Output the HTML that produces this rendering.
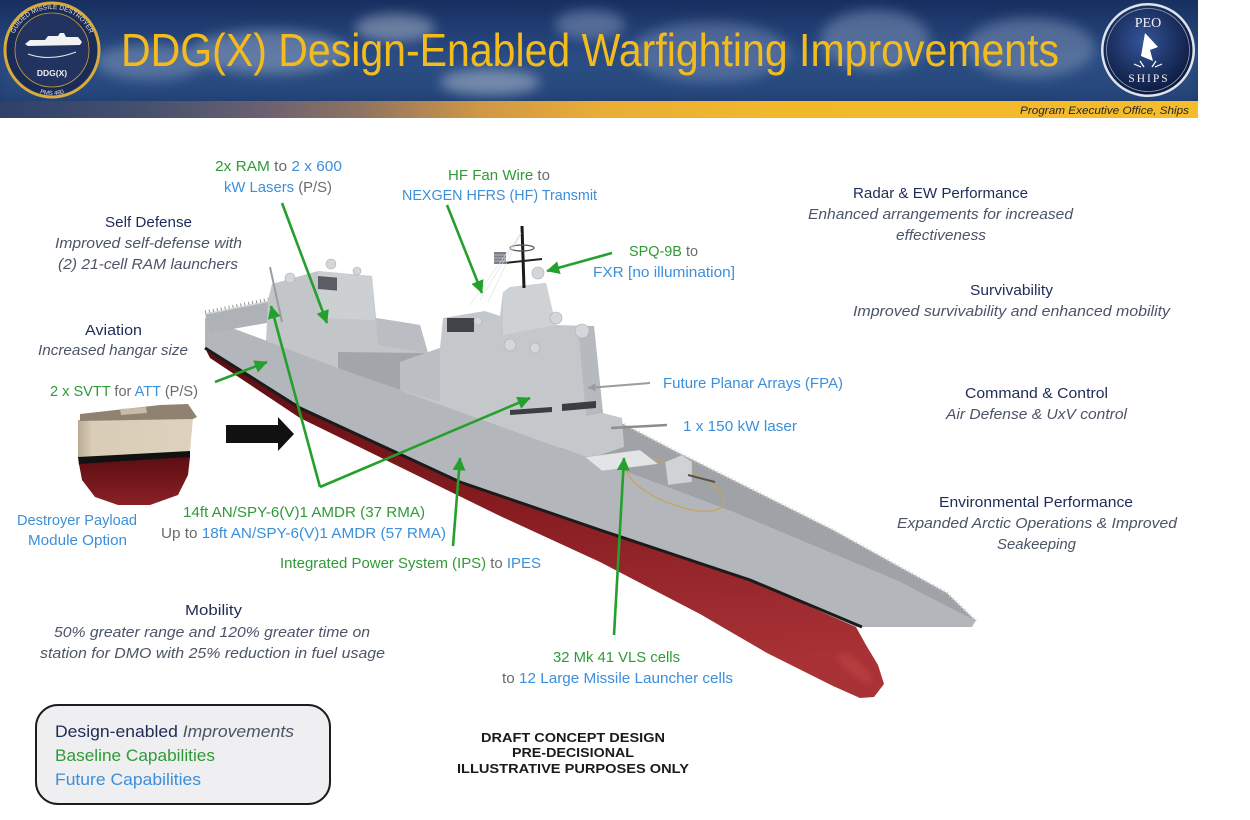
<!DOCTYPE html>
<html><head><meta charset="utf-8"><style>
html,body{margin:0;padding:0;background:#fff;}
svg{display:block;}
text{font-family:"Liberation Sans",Arial,sans-serif;}
.g{fill:#2f9a37}.b{fill:#3b8fdb}.k{fill:#6b6b6b}.n{fill:#1f2b58}.it{fill:#4c5467;font-style:italic}
</style></head><body>
<svg width="1250" height="820" viewBox="0 0 1250 820" xmlns="http://www.w3.org/2000/svg">
<defs>
 <clipPath id="hclip"><rect x="0" y="0" width="1198" height="101"/></clipPath>
 <linearGradient id="hdr" x1="0" y1="0" x2="0" y2="1">
  <stop offset="0" stop-color="#172f60"/>
  <stop offset="0.55" stop-color="#284a82"/>
  <stop offset="1" stop-color="#1d396b"/>
 </linearGradient>
 <linearGradient id="strip" x1="0" x2="1">
  <stop offset="0" stop-color="#2f406a"/>
  <stop offset="0.12" stop-color="#45506e"/>
  <stop offset="0.22" stop-color="#6b6070"/>
  <stop offset="0.3" stop-color="#8e7362"/>
  <stop offset="0.4" stop-color="#cf9746"/>
  <stop offset="0.5" stop-color="#e9ad36"/>
  <stop offset="0.65" stop-color="#f2b82c"/>
  <stop offset="1" stop-color="#f5bc2c"/>
 </linearGradient>
 <filter id="blur6" x="-50%" y="-50%" width="200%" height="200%"><feGaussianBlur stdDeviation="6"/></filter>
 <filter id="blur3" x="-50%" y="-50%" width="200%" height="200%"><feGaussianBlur stdDeviation="3"/></filter>
 <radialGradient id="peo" cx="0.45" cy="0.4" r="0.6">
  <stop offset="0" stop-color="#34559a"/>
  <stop offset="1" stop-color="#0d1a3e"/>
 </radialGradient>
 <linearGradient id="red" x1="0" y1="0" x2="0.15" y2="1">
  <stop offset="0" stop-color="#5a0c10"/>
  <stop offset="0.5" stop-color="#861c20"/>
  <stop offset="1" stop-color="#a83236"/>
 </linearGradient>
 <linearGradient id="dpmred" x1="0" y1="0" x2="0" y2="1">
  <stop offset="0" stop-color="#5c0e12"/>
  <stop offset="1" stop-color="#8a2026"/>
 </linearGradient>
 <linearGradient id="beige" x1="0" y1="0" x2="1" y2="0">
  <stop offset="0" stop-color="#b9ab94"/>
  <stop offset="0.12" stop-color="#d9cdb7"/>
  <stop offset="1" stop-color="#ddd2bd"/>
 </linearGradient>
 <marker id="ga" viewBox="0 0 10 10" refX="9.5" refY="5" markerWidth="13" markerHeight="13" markerUnits="userSpaceOnUse" orient="auto">
  <path d="M0,0 L10,5 L0,10 z" fill="#24a02c"/>
 </marker>
 <marker id="gr" viewBox="0 0 10 10" refX="9.5" refY="5" markerWidth="8" markerHeight="8" markerUnits="userSpaceOnUse" orient="auto">
  <path d="M0,0 L10,5 L0,10 z" fill="#9a9c9f"/>
 </marker>
 <path id="arcTop" d="M11,50 A41,41 0 0 1 93,50" fill="none"/>
 <path id="arcBot" d="M9,52 A43,43 0 0 0 95,52" fill="none"/>
</defs>

<!-- HEADER -->
<g clip-path="url(#hclip)">
<rect x="0" y="0" width="1198" height="101" fill="url(#hdr)"/>
<rect x="0" y="55" width="1198" height="46" fill="#2e5288" opacity="0.5" filter="url(#blur6)"/>
<g filter="url(#blur6)" opacity="0.55">
 <ellipse cx="150" cy="62" rx="55" ry="18" fill="#7d93b8"/>
 <ellipse cx="270" cy="52" rx="80" ry="22" fill="#8ea2c2"/>
 <ellipse cx="395" cy="28" rx="40" ry="14" fill="#a8b4c8"/>
 <ellipse cx="490" cy="82" rx="50" ry="13" fill="#b4c0d2"/>
 <ellipse cx="590" cy="25" rx="35" ry="15" fill="#8094b8"/>
 <ellipse cx="710" cy="52" rx="80" ry="30" fill="#6f86b0"/>
 <ellipse cx="875" cy="40" rx="55" ry="30" fill="#7d92b6"/>
 <ellipse cx="1030" cy="48" rx="65" ry="30" fill="#7a8fb4"/>
</g>
</g>
<rect x="0" y="101" width="1198" height="17" fill="url(#strip)"/>

<!-- left logo -->
<circle cx="52" cy="50" r="47" fill="#1b2b57" stroke="#d9ab3c" stroke-width="3"/>
<circle cx="52" cy="50" r="37" fill="#22335f" stroke="#c9a040" stroke-width="0.8"/>
<text font-size="6.5" fill="#e6e6e6"><textPath href="#arcTop" startOffset="50%" text-anchor="middle">GUIDED MISSILE DESTROYER</textPath></text>
<text font-size="6" fill="#e6e6e6"><textPath href="#arcBot" startOffset="50%" text-anchor="middle">PMS 460</textPath></text>
<path d="M25,44 L30,40 L45,40 L48,36 L58,36 L60,33 L64,33 L66,37 L78,37 L82,42 L80,45 L28,46 Z" fill="#f2f2f2"/>
<path d="M28,54 Q50,62 76,52" fill="none" stroke="#e8e8e8" stroke-width="1"/>
<text x="52" y="76" font-size="8.5" font-weight="bold" fill="#f0f0f0" text-anchor="middle">DDG(X)</text>

<!-- right logo -->
<circle cx="1148" cy="50" r="47" fill="#dfe3ea"/>
<circle cx="1148" cy="50" r="44.5" fill="url(#peo)"/>
<circle cx="1148" cy="50" r="41.5" fill="none" stroke="#8fa0c0" stroke-width="0.8"/>
<text x="1148" y="27" text-anchor="middle" style="font-family:'Liberation Serif',serif" font-size="14" fill="#f2f2f2">PEO</text>
<text x="1149" y="82" text-anchor="middle" style="font-family:'Liberation Serif',serif" font-size="11.5" letter-spacing="2" fill="#f2f2f2">SHIPS</text>
<path d="M1145,33 L1158,47 L1150,50 L1153,61 L1141,56 Z" fill="#fff"/>
<path d="M1134,64 L1141,67 M1140,61 L1144,67 M1162,64 L1155,67 M1156,61 L1152,67" stroke="#fff" stroke-width="1.2"/>

<!-- title -->
<text x="121" y="66" font-size="46" fill="#f4bb1d" textLength="938" lengthAdjust="spacingAndGlyphs">DDG(X) Design-Enabled Warfighting Improvements</text>
<text x="1020" y="114" font-size="11" font-style="italic" fill="#262626" textLength="169" lengthAdjust="spacingAndGlyphs">Program Executive Office, Ships</text>

<!-- SHIP -->
<path d="M205,348 L300,408 L460,482 L600,530 L750,580 L856,627 L866,645 L878,665 L884,684 L874,697 L860,698 L833,686 L767,653 L700,614 L600,562 L500,516 L300,418 L210,358 Z" fill="url(#red)"/>
<ellipse cx="855" cy="668" rx="22" ry="7" transform="rotate(40 855 668)" fill="#c44848" opacity="0.5" filter="url(#blur3)"/>
<path d="M205,318 L400,390 L600,462 L733,512 L900,582 L976,620 L972,627 L856,627 L750,580 L600,530 L460,482 L300,408 L205,348 Z" fill="#b3b6ba"/>
<path d="M205,348 L300,408 L460,482 L600,530 L750,580 L862,627" fill="none" stroke="#1b1b1b" stroke-width="3"/>
<!-- stern flight deck -->
<path d="M205,314 L270,301 L272,322 L210,333 Z" fill="#aeb2b6"/>
<path d="M205,314 L270,301" stroke="#d5d7d9" stroke-width="1.5"/>
<path d="M205,314 L270,301" stroke="#8e9296" stroke-width="3" stroke-dasharray="1 3" transform="translate(0,-2)"/>
<!-- forward deck -->
<path d="M560,405 L610,417 L673,450 L833,530 L947,593 L976,621 L900,582 L733,512 L600,462 L560,448 Z" fill="#9fa3a7"/>
<path d="M610,417 L673,450 L833,530 L947,593 L976,621" fill="none" stroke="#c9cbcd" stroke-width="3" stroke-dasharray="1 3"/>
<!-- mid deck -->
<path d="M338,352 L428,352 L452,348 L452,405 L400,390 L338,368 Z" fill="#a2a6aa"/>
<!-- aft superstructure -->
<path d="M266,341 L268,300 L272,284 L318,271 L372,276 L376,318 L420,325 L428,353 L338,352 L338,368 Z" fill="#c3c6c9"/>
<path d="M318,271 L372,276 L375,320 L320,318 Z" fill="#cdd0d3"/>
<path d="M376,318 L420,325 L428,353 L378,345 Z" fill="#babdc1"/>
<rect x="318" y="276" width="19" height="13" fill="#5a5e64" transform="skewY(5)" transform-origin="318 276"/>
<line x1="270" y1="267" x2="282" y2="322" stroke="#9a9da0" stroke-width="2"/>
<!-- forward superstructure -->
<path d="M400,390 L400,362 L440,348 L443,318 L485,311 L500,316 L503,292 L510,287 L546,283 L556,325 L594,326 L603,413 L622,418 L624,447 L600,455 L600,462 L500,426 Z" fill="#c5c8cb"/>
<path d="M503,292 L510,287 L546,283 L556,325 L503,335 Z" fill="#cfd2d5"/>
<path d="M578,326 L594,326 L603,413 L586,416 Z" fill="#b6b9bd"/>
<path d="M400,362 L440,348 L440,402 L400,390 Z" fill="#bbbec2"/>
<rect x="447" y="318" width="27" height="14" fill="#40444a"/>
<path d="M510,410 L552,407 L552,412 L510,415 Z" fill="#3a3e44"/>
<path d="M562,404 L596,401 L596,408 L562,411 Z" fill="#3a3e44"/>
<!-- mast -->
<line x1="522" y1="226" x2="524" y2="288" stroke="#1a1a1a" stroke-width="3"/>
<line x1="505" y1="263" x2="542" y2="259" stroke="#222" stroke-width="2"/>
<ellipse cx="522" cy="248" rx="12" ry="3" fill="none" stroke="#555" stroke-width="1.2"/>
<rect x="494" y="252" width="12" height="12" fill="#7a7f88"/>
<path d="M494,255 h12 M494,258 h12 M494,261 h12" stroke="#c9ccd0" stroke-width="0.8"/>
<g stroke="#dcdedf" stroke-width="0.6">
 <line x1="521" y1="233" x2="480" y2="300"/>
 <line x1="521" y1="233" x2="488" y2="302"/>
 <line x1="521" y1="233" x2="470" y2="305"/>
</g>
<g fill="#d4d7da" stroke="#a9adb1" stroke-width="0.6">
 <circle cx="538" cy="273" r="6"/>
 <circle cx="290" cy="278" r="5"/>
 <circle cx="331" cy="264" r="5"/>
 <circle cx="357" cy="271" r="4"/>
 <circle cx="510" cy="345" r="6"/>
 <circle cx="535" cy="348" r="5"/>
 <circle cx="556" cy="318" r="6"/>
 <circle cx="582" cy="331" r="7"/>
 <circle cx="478" cy="321" r="4"/>
</g>
<!-- VLS, gun -->
<ellipse cx="675" cy="485" rx="52" ry="19" transform="rotate(22 675 485)" fill="none" stroke="#c9a35a" stroke-width="1.2"/>
<path d="M585,457 L640,450 L658,464 L602,471 Z" fill="#e2e4e6" stroke="#b0b3b6" stroke-width="0.5"/>
<path d="M665,462 L682,455 L692,462 L692,482 L668,485 Z" fill="#d0d3d6" stroke="#a8abae" stroke-width="0.5"/>
<line x1="688" y1="475" x2="715" y2="482" stroke="#555" stroke-width="2"/>
<line x1="611" y1="428" x2="667" y2="425" stroke="#8b8d90" stroke-width="2.5"/>
<line x1="650" y1="383" x2="588" y2="388" stroke="#9a9c9f" stroke-width="2" marker-end="url(#gr)"/>

<!-- DPM module -->
<path d="M78,420 L193,418 L190,452 L78,458 Z" fill="url(#beige)"/>
<path d="M80,414 L160,405 L188,404 L197,417 L193,419 L80,421 Z" fill="#8f8270"/>
<path d="M120,409 L146,407 L147,413 L121,415 Z" fill="#c8bca8"/>
<path d="M78,457 L190,451 L190,458 L79,465 Z" fill="#111"/>
<path d="M79,464 L190,457 L188,475 L178,495 L150,505 L118,505 L95,497 L82,480 Z" fill="url(#dpmred)"/>

<!-- black arrow -->
<path d="M226,425 L278,425 L278,417 L294,434 L278,451 L278,443 L226,443 Z" fill="#111"/>

<!-- green arrows -->
<g stroke="#24a02c" stroke-width="2.6" fill="none">
 <line x1="282" y1="203" x2="327" y2="323" marker-end="url(#ga)"/>
 <line x1="447" y1="205" x2="482" y2="293" marker-end="url(#ga)"/>
 <line x1="612" y1="253" x2="547" y2="271" marker-end="url(#ga)"/>
 <line x1="215" y1="382" x2="267" y2="362" marker-end="url(#ga)"/>
 <line x1="320" y1="487" x2="271" y2="306" marker-end="url(#ga)"/>
 <line x1="320" y1="487" x2="530" y2="398" marker-end="url(#ga)"/>
 <line x1="453" y1="546" x2="460" y2="458" marker-end="url(#ga)"/>
 <line x1="614" y1="635" x2="624" y2="458" marker-end="url(#ga)"/>
</g>

<!-- LABELS -->
<g font-size="15">
 <text x="215" y="171" textLength="127" lengthAdjust="spacingAndGlyphs"><tspan class="g">2x RAM</tspan><tspan class="k"> to </tspan><tspan class="b">2 x 600</tspan></text>
 <text x="224" y="192" textLength="108" lengthAdjust="spacingAndGlyphs"><tspan class="b">kW Lasers</tspan><tspan class="k"> (P/S)</tspan></text>
 <text x="448" y="180" textLength="102" lengthAdjust="spacingAndGlyphs"><tspan class="g">HF Fan Wire</tspan><tspan class="k"> to</tspan></text>
 <text x="402" y="200" class="b" textLength="195" lengthAdjust="spacingAndGlyphs">NEXGEN HFRS (HF) Transmit</text>
 <text x="629" y="256" textLength="69" lengthAdjust="spacingAndGlyphs"><tspan class="g">SPQ-9B</tspan><tspan class="k"> to</tspan></text>
 <text x="593" y="277" class="b" textLength="142" lengthAdjust="spacingAndGlyphs">FXR [no illumination]</text>
 <text x="663" y="388" class="b" textLength="180" lengthAdjust="spacingAndGlyphs">Future Planar Arrays (FPA)</text>
 <text x="683" y="431" class="b" textLength="114" lengthAdjust="spacingAndGlyphs">1 x 150 kW laser</text>

 <text x="105" y="227" class="n" textLength="87" lengthAdjust="spacingAndGlyphs">Self Defense</text>
 <text x="55" y="248" class="it" textLength="187" lengthAdjust="spacingAndGlyphs">Improved self-defense with</text>
 <text x="58" y="269" class="it" textLength="180" lengthAdjust="spacingAndGlyphs">(2) 21-cell RAM launchers</text>
 <text x="85" y="335" class="n" textLength="57" lengthAdjust="spacingAndGlyphs">Aviation</text>
 <text x="38" y="355" class="it" textLength="150" lengthAdjust="spacingAndGlyphs">Increased hangar size</text>
 <text x="50" y="396" textLength="148" lengthAdjust="spacingAndGlyphs"><tspan class="g">2 x SVTT</tspan><tspan class="k"> for </tspan><tspan class="b">ATT</tspan><tspan class="k"> (P/S)</tspan></text>
 <text x="17" y="525" class="b" textLength="120" lengthAdjust="spacingAndGlyphs">Destroyer Payload</text>
 <text x="28" y="545" class="b" textLength="99" lengthAdjust="spacingAndGlyphs">Module Option</text>

 <text x="183" y="517" class="g" textLength="242" lengthAdjust="spacingAndGlyphs">14ft AN/SPY-6(V)1 AMDR (37 RMA)</text>
 <text x="161" y="538" textLength="285" lengthAdjust="spacingAndGlyphs"><tspan class="k">Up to </tspan><tspan class="b">18ft AN/SPY-6(V)1 AMDR (57 RMA)</tspan></text>
 <text x="280" y="568" textLength="261" lengthAdjust="spacingAndGlyphs"><tspan class="g">Integrated Power System (IPS)</tspan><tspan class="k"> to </tspan><tspan class="b">IPES</tspan></text>

 <text x="185" y="615" class="n" textLength="57" lengthAdjust="spacingAndGlyphs">Mobility</text>
 <text x="54" y="637" class="it" textLength="316" lengthAdjust="spacingAndGlyphs">50% greater range and 120% greater time on</text>
 <text x="40" y="658" class="it" textLength="345" lengthAdjust="spacingAndGlyphs">station for DMO with 25% reduction in fuel usage</text>

 <text x="553" y="662" class="g" textLength="127" lengthAdjust="spacingAndGlyphs">32 Mk 41 VLS cells</text>
 <text x="502" y="683" textLength="231" lengthAdjust="spacingAndGlyphs"><tspan class="k">to </tspan><tspan class="b">12 Large Missile Launcher cells</tspan></text>

 <text x="853" y="198" class="n" textLength="175" lengthAdjust="spacingAndGlyphs">Radar &amp; EW Performance</text>
 <text x="808" y="219" class="it" textLength="265" lengthAdjust="spacingAndGlyphs">Enhanced arrangements for increased</text>
 <text x="896" y="240" class="it" textLength="90" lengthAdjust="spacingAndGlyphs">effectiveness</text>
 <text x="970" y="295" class="n" textLength="83" lengthAdjust="spacingAndGlyphs">Survivability</text>
 <text x="853" y="316" class="it" textLength="317" lengthAdjust="spacingAndGlyphs">Improved survivability and enhanced mobility</text>
 <text x="965" y="398" class="n" textLength="143" lengthAdjust="spacingAndGlyphs">Command &amp; Control</text>
 <text x="946" y="419" class="it" textLength="181" lengthAdjust="spacingAndGlyphs">Air Defense &amp; UxV control</text>
 <text x="939" y="507" class="n" textLength="194" lengthAdjust="spacingAndGlyphs">Environmental Performance</text>
 <text x="897" y="528" class="it" textLength="280" lengthAdjust="spacingAndGlyphs">Expanded Arctic Operations &amp; Improved</text>
 <text x="997" y="549" class="it" textLength="79" lengthAdjust="spacingAndGlyphs">Seakeeping</text>
</g>

<!-- legend -->
<rect x="36" y="705" width="294" height="99" rx="22" ry="22" fill="#efeff1" stroke="#1d1d1d" stroke-width="2"/>
<g font-size="17">
 <text x="55" y="737" textLength="239" lengthAdjust="spacingAndGlyphs"><tspan class="n">Design-enabled</tspan><tspan class="it"> Improvements</tspan></text>
 <text x="55" y="761" class="g" textLength="160" lengthAdjust="spacingAndGlyphs">Baseline Capabilities</text>
 <text x="55" y="785" class="b" textLength="146" lengthAdjust="spacingAndGlyphs">Future Capabilities</text>
</g>

<!-- draft -->
<g font-size="12.5" font-weight="bold" fill="#1a1a1a" text-anchor="middle">
 <text x="573" y="742" textLength="184" lengthAdjust="spacingAndGlyphs">DRAFT CONCEPT DESIGN</text>
 <text x="573" y="757" textLength="122" lengthAdjust="spacingAndGlyphs">PRE-DECISIONAL</text>
 <text x="573" y="773" textLength="232" lengthAdjust="spacingAndGlyphs">ILLUSTRATIVE PURPOSES ONLY</text>
</g>
</svg>
</body></html>
